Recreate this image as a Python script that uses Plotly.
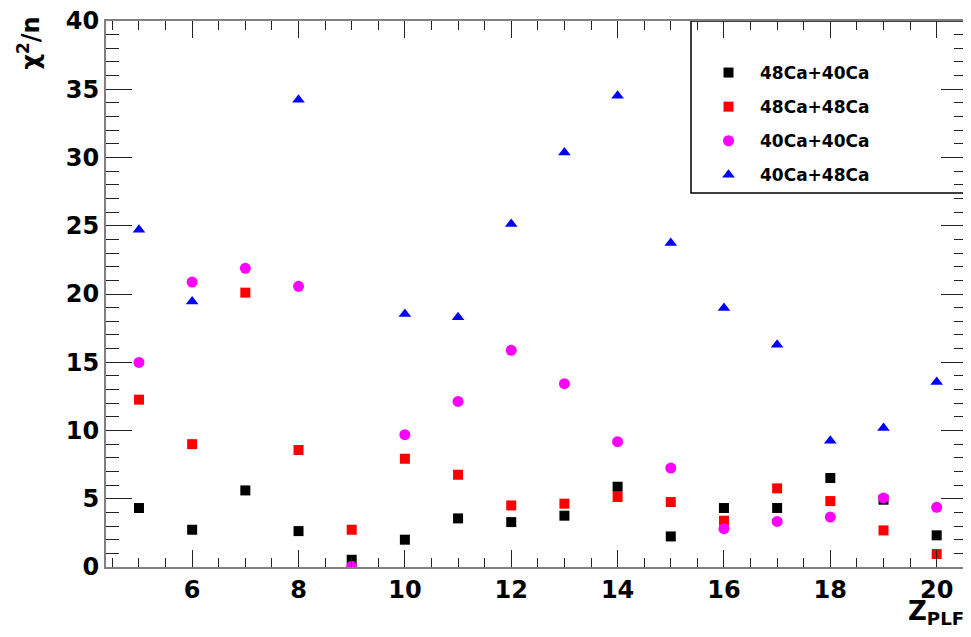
import plotly.graph_objects as go

z = [5, 6, 7, 8, 9, 10, 11, 12, 13, 14, 15, 16, 17, 18, 19, 20]

ca48_ca40 = [4.32, 2.73, 5.61, 2.63, 0.53, 2.0, 3.56, 3.29, 3.76, 5.88, 2.24, 4.32, 4.32, 6.52, 4.93, 2.32]
ca48_ca48 = [12.26, 9.0, 20.1, 8.57, 2.73, 7.93, 6.76, 4.51, 4.64, 5.13, 4.76, 3.39, 5.76, 4.83, 2.68, 0.95]
ca40_ca40 = [14.99, 20.88, 21.88, 20.56, 0.05, 9.69, 12.13, 15.87, 13.43, 9.18, 7.25, 2.81, 3.34, 3.66, 5.05, 4.37]
ca40_ca48 = [24.7, 19.45, None, 34.23, None, 18.53, 18.29, 25.13, 30.37, 34.53, 23.74, 18.97, 16.29, 9.25, 10.18, 13.55]

series = [
    ("48Ca+40Ca", ca48_ca40, "black", "square", 10),
    ("48Ca+48Ca", ca48_ca48, "#ff0000", "square", 10),
    ("40Ca+40Ca", ca40_ca40, "#ff00ff", "circle", 11),
    ("40Ca+48Ca", ca40_ca48, "#0000ff", "triangle-up", 11),
]

FONT = "DejaVu Sans"

fig = go.Figure()
for i, (name, vals, col, sym, sz) in enumerate(series):
    fig.add_trace(go.Scatter(
        x=z, y=vals, mode="markers", name=name,
        marker=dict(color=col, symbol=sym, size=sz, line=dict(width=0)),
        legendgroup=f"g{i}",
    ))

axis_common = dict(
    showgrid=False, zeroline=False, showline=True, linecolor="#808080", linewidth=2,
    mirror="allticks", ticks="inside", tickcolor="#222222", tickwidth=1,
    tickfont=dict(family=FONT, size=24, color="black", weight="bold"),
    ticklabeloverflow="allow", automargin=False,
)

fig.update_xaxes(range=[4.38, 20.57], tick0=0, dtick=2, ticklen=17,
                 minor=dict(ticks="inside", dtick=0.5, ticklen=9, tickcolor="#222222", tickwidth=1),
                 **axis_common)
fig.update_yaxes(range=[0, 40], tick0=0, dtick=5, ticklen=26,
                 minor=dict(ticks="inside", dtick=1, ticklen=13, tickcolor="#222222", tickwidth=1),
                 **axis_common)

# the page body adds an 8px margin; work in window pixels and subtract it
OFF = 8
W, H = 971 - OFF, 620
L, T = 106 - OFF, 21 - OFF
PR, PB = 967 - OFF, 567 - OFF
R, B = W - PR, H - PB
pw, ph = PR - L, PB - T

def px_x(p):
    return (p - OFF - L) / pw

def px_y(p):
    return (PB - (p - OFF)) / ph

fig.add_shape(type="rect", xref="paper", yref="paper",
              x0=px_x(691), x1=px_x(967), y0=px_y(193), y1=px_y(21),
              line=dict(color="black", width=1.5), fillcolor="white", layer="below")

fig.add_annotation(text="χ<sup>2</sup>/n", xref="paper", yref="paper",
                   x=px_x(28), y=px_y(15), xanchor="center", yanchor="top",
                   textangle=-90, showarrow=False,
                   font=dict(family=FONT, size=24, color="black", weight="bold"))
fig.add_annotation(text="Z<sub>PLF</sub>", xref="paper", yref="paper",
                   x=px_x(966), y=px_y(594), xanchor="right", yanchor="top",
                   showarrow=False,
                   font=dict(family=FONT, size=26, color="black", weight="bold"))

fig.update_layout(
    width=W, height=H,
    margin=dict(l=L, r=R, t=T, b=B, autoexpand=False),
    plot_bgcolor="white", paper_bgcolor="white",
    showlegend=True,
    legend=dict(x=px_x(697), y=px_y(55), xanchor="left", yanchor="top",
                bgcolor="rgba(0,0,0,0)", borderwidth=0,
                font=dict(family=FONT, size=17, color="black", weight="bold"),
                itemwidth=53, tracegroupgap=9),
)

fig.write_html("out.html")
